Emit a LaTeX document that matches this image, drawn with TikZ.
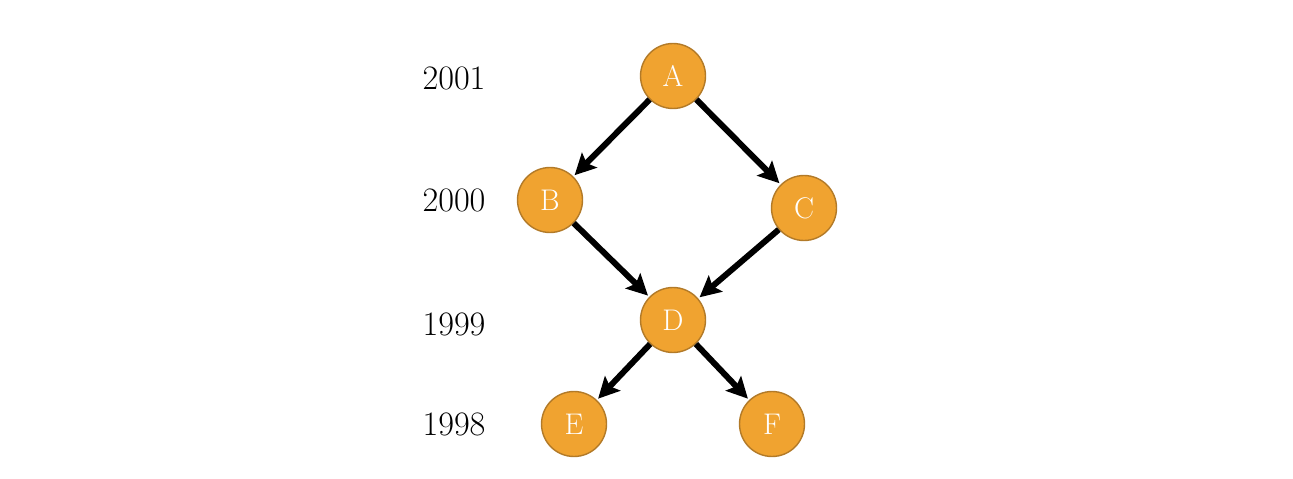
\documentclass[tikz,border=0pt]{standalone}
\usepackage{tikz}
\usetikzlibrary{arrows.meta}
\definecolor{nodeorange}{HTML}{F0A330}
\definecolor{nodeedge}{HTML}{B27A28}

\begin{document}
\begin{tikzpicture}[x=0.02cm,y=-0.02cm,
                vertex/.style={circle,fill=nodeorange,draw=nodeedge,line width=0.8pt,minimum size=1.3cm,inner sep=0pt,text=white,font=\fontsize{17}{20}\selectfont},
                year/.style={font=\fontsize{19.5}{23}\selectfont},
                link/.style={line width=3.4pt,-{Stealth[length=0.42cm,width=0.42cm,inset=0.08cm]},shorten >=1pt}
                ]
                \useasboundingbox (0,0) rectangle (1293,479);
                \node [year] (y2001) at (454,78) {2001};
                \node [year] (y2000) at (454,200) {2000};
                \node [year] (y1999) at (454,324) {1999};
                \node [year] (y1998) at (454,424) {1998};
                \node [vertex] (A) at (673,76) {A};
                \node [vertex] (B) at (550,200) {B};
                \node [vertex] (C) at (804,208) {C};
                \node [vertex] (D) at (673,320) {D};
                \node [vertex] (E) at (574,424) {E};
                \node [vertex] (F) at (772,424) {F};
                \draw [link] (A) -- (B);
                \draw [link] (A) -- (C);
                \draw [link] (B) -- (D);
                \draw [link] (C) -- (D);
                \draw [link] (D) -- (E);
                \draw [link] (D) -- (F);
            \end{tikzpicture}
\end{document}
